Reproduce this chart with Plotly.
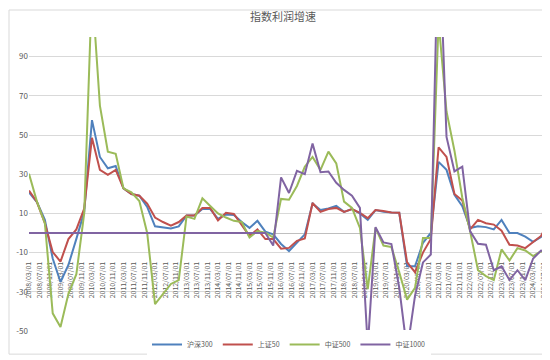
import pandas as pd
import plotly.graph_objects as go

# Quarterly dates 2008/03 .. 2024/09
dates = pd.date_range("2008-03-01", "2024-09-01", freq="3MS").strftime("%Y-%m-%d").tolist()

hs300 = [20.7, 15.8, 6.7, -13,
         -25, -16.3, -3, 10.8,
         57.6, 38.8, 33, 34.2,
         22.8, 19.9, 19, 13.3,
         3.4, 3, 2.3, 3.4,
         8.9, 8.9, 12.2, 12.2,
         7.2, 9.5, 9.2, 5.6,
         2.6, 6.2, 0.7, -0.7,
         -5.6, -9.2, -4.8, -0.7,
         15, 11.7, 12.5, 13.8,
         10.8, 12.2, 10, 6.7,
         11.7, 10.8, 10.5, 10.3,
         -17, -17, -5, 0,
         36.3, 32.2, 19.5, 13.7,
         2.5, 3.4, 3, 1.8,
         6.7, 0, 0, -1.9,
         -4.5, -2, 1.8]

sz50 = [21.7, 15.8, 5, -9.7,
        -14.6, -3.1, 1.8, 12.5,
        48.6, 32.2, 29.7, 32.2,
        22.8, 19.9, 19, 15,
        7.9, 5.6, 3.8, 5.6,
        8.9, 8.9, 12.8, 12.8,
        6.4, 10.3, 9.7, 4.3,
        -1.5, 1.8, -3.1, -3.1,
        -8, -7.6, -4, -2.8,
        15.3, 10.8, 12.2, 12.8,
        10.8, 12.2, 10.3, 7.6,
        11.7, 11.2, 10.5, 10.3,
        -15, -20, -10, -3,
        43.7, 38.8, 19.9, 16.6,
        1.8, 6.7, 5, 4.3,
        1.2, -6, -6.4, -7.7,
        -4.5, -1.5, 6]

zz500 = [30.2, 16, 5, -41,
         -48, -31, -21, 10,
         125, 65, 41.5, 40.4,
         22.8, 20.7, 16.3, 0,
         -36.3, -31, -26, -24,
         8.4, 7.2, 17.7, 13.8,
         10, 7.9, 6.2, 5.6,
         -2.3, 1, 0.2, -2.3,
         17.4, 17, 24, 33.8,
         38.8, 32.2, 41.5, 35.5,
         16, 12.8, 2.6, -28.6,
         2.6, -6.4, -7.2, -20,
         -34, -28, -2.5, -2.5,
         108, 62, 42, 18,
         1, -19, -22, -24,
         -8.4, -14, -7.7, -8.9,
         -11.8, -9.3, -11.2]

zz1000 = [0] * 31 + [-6.4,
          28.4, 20.4, 31.7, 30,
          45.6, 31, 31.4, 25.6,
          22, 19, 12.8, -58,
          3, -4.8, -5.6, -28,
          -60, -32, -15, -11,
          160, 49, 31.4, 33.8,
          1, -5.5, -6, -19,
          -17, -24, -19, -24,
          -13, -9, -10]

names = ["沪深300", "上证50", "中证500", "中证1000"]
colors = ["#4F81BD", "#C0504D", "#9BBB59", "#8064A2"]
series = [hs300, sz50, zz500, zz1000]

yticks = [-50, -30, -10, 10, 30, 50, 70, 90]

FONT = "Noto Sans CJK SC, sans-serif"
GRAY = "#595959"

fig = go.Figure()
for name, col, vals in zip(names, colors, series):
    fig.add_trace(go.Scatter(x=dates, y=vals, name=name, mode="lines",
                             line=dict(color=col, width=2)))

W, H = 550, 360
L, R, T, B = 21, 9, 29, 26
pw, ph = W - L - R, H - T - B

fig.update_layout(
    width=W, height=H,
    margin=dict(l=L, r=R, t=T, b=B, pad=0),
    paper_bgcolor="white", plot_bgcolor="white",
    font=dict(family=FONT, color=GRAY, size=8),
    title=dict(text="指数利润增速", x=0.5, xref="container", xanchor="center",
               y=1, yref="container", yanchor="top",
               pad=dict(t=5, b=0, l=0, r=0),
               font=dict(size=11, color=GRAY, family=FONT)),
    showlegend=True,
    legend=dict(orientation="h", x=0.5, xanchor="center", y=(0 - 14) / ph,
                yanchor="middle", font=dict(size=7, color=GRAY),
                itemwidth=30, tracegroupgap=0),
    xaxis=dict(type="date", range=[dates[0], dates[-1]],
               tick0="2008-03-01", dtick="M4", tickformat="%Y/%m/%d",
               tickangle=-90, showgrid=False, zeroline=False,
               anchor="free", position=50 / 150, layer="below traces",
               showline=True, linecolor="#BFBFBF", linewidth=1, ticks="",
               ticklabelstandoff=25,
               tickfont=dict(size=7, color=GRAY)),
    yaxis=dict(range=[-50, 100], tickvals=yticks, ticktext=[str(v) for v in yticks],
               showgrid=True, gridcolor="#D9D9D9", gridwidth=1, zeroline=False,
               ticks="", showline=False, tickfont=dict(size=8, color=GRAY)),
    shapes=[dict(type="rect", xref="paper", yref="paper",
                 x0=(1 - L) / pw, x1=(547 - L) / pw,
                 y0=(H - B - 358) / ph, y1=(H - B - 1) / ph,
                 line=dict(color="#D9D9D9", width=1), fillcolor="rgba(0,0,0,0)",
                 layer="below")],
)

fig.write_html("out.html")
